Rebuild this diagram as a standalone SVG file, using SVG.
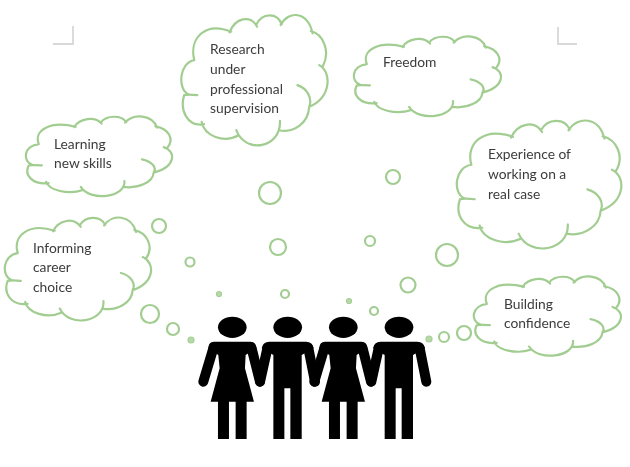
<svg xmlns="http://www.w3.org/2000/svg" width="630" height="467" viewBox="0 0 630 467">
<style>
.cloud{fill:none;stroke:#a2cd91;stroke-width:2.2;stroke-linecap:round;vector-effect:non-scaling-stroke}
.bub{fill:#fff;stroke:#a2cd91;stroke-width:2.2}
.dot{fill:#b7d9aa;stroke:#a6cf96;stroke-width:1.2}
.lb{font-family:"Lato","Open Sans",sans-serif;font-size:13.8px;fill:#3c3c3c}
.crop{fill:none;stroke:#d8d8d8;stroke-width:1.8}
.arm{fill:none;stroke:#000;stroke-width:30;stroke-linecap:round}
</style>
<defs>
<filter id="soft" x="-5%" y="-5%" width="110%" height="110%"><feGaussianBlur stdDeviation="0.75"/></filter>
<path id="c" class="cloud" d="M38 135C22 70 70 18 148 50M143 52C160 8 205 -2 225 35M222 30C240 -8 285 -8 298 28M295 30C320 -16 376 -10 390 55M385 48C423 58 444 110 420 155M410 150C447 170 447 246 380 275M345 210C375 220 390 250 380 275C378 322 335 355 290 345M293 317C297 398 190 418 163 345M170 360C125 385 68 362 60 320M67 327C17 335 -6 285 8 240C15 238 30 238 47 240M20 238C-13 220 -6 142 38 135"/>
<g id="woman"><path d="M-55 155H55Q72 155 72 175L40 195L38 235L65 335H43V447H10V335H-10V447H-43V335H-65L-38 235L-42 195L-72 175Q-72 155 -55 155Z"/><path class="arm" d="M-57 175L-87 275M58 175L83 275"/><ellipse cx="0" cy="112" rx="43" ry="32"/></g>
<g id="man"><path d="M-55 155H55Q75 155 78 175L42 195V447H8V295H-10V447H-43V195L-78 175Q-75 155 -55 155Z"/><path class="arm" d="M-61 175L-83 275M62 175L82 275"/><ellipse cx="0" cy="112" rx="43" ry="32"/></g>
</defs>
<g filter="url(#soft)">
<g id="crop-marks"><path class="crop" d="M53 44H73V26"/><path class="crop" d="M558 27V44H577"/></g>
<g id="connectors">
<circle class="bub" cx="270" cy="193" r="11"/><circle class="bub" cx="159" cy="226" r="7"/><circle class="bub" cx="190" cy="262" r="4.5"/><circle class="bub" cx="150" cy="314" r="9"/><circle class="bub" cx="173" cy="329" r="6"/><circle class="dot" cx="191" cy="340" r="3"/><circle class="bub" cx="278" cy="247" r="8"/><circle class="dot" cx="219" cy="294" r="2.5"/><circle class="bub" cx="285" cy="294" r="4"/><circle class="dot" cx="349" cy="301" r="2.5"/><circle class="bub" cx="374" cy="311" r="4"/><circle class="bub" cx="393" cy="177" r="7"/><circle class="bub" cx="370" cy="241" r="5"/><circle class="bub" cx="447" cy="255" r="11"/><circle class="bub" cx="408" cy="285" r="7.5"/><circle class="bub" cx="464" cy="333" r="7"/><circle class="bub" cx="444" cy="337" r="5"/><circle class="dot" cx="429" cy="339" r="3"/>
</g>
<g id="node-research"><use href="#c" transform="translate(181.500 15) scale(0.336 0.334)"/><text class="lb" x="210" y="54">Research</text><text class="lb" x="210" y="74">under</text><text class="lb" x="210" y="94">professional</text><text class="lb" x="210" y="113">supervision</text></g>
<g id="node-learning"><use href="#c" transform="translate(26 116.500) scale(0.336 0.204)"/><text class="lb" x="54" y="149">Learning</text><text class="lb" x="54" y="168">new skills</text></g>
<g id="node-freedom"><use href="#c" transform="translate(354 36.500) scale(0.338 0.204)"/><text class="lb" x="383" y="67">Freedom</text></g>
<g id="node-experience"><use href="#c" transform="translate(457 120.500) scale(0.378 0.328)"/><text class="lb" x="488" y="159">Experience of</text><text class="lb" x="488" y="179">working on a</text><text class="lb" x="488" y="199">real case</text></g>
<g id="node-informing"><use href="#c" transform="translate(5 217.500) scale(0.336 0.264)"/><text class="lb" x="33" y="253">Informing</text><text class="lb" x="33" y="272">career</text><text class="lb" x="33" y="292">choice</text></g>
<g id="node-building"><use href="#c" transform="translate(474 276.500) scale(0.338 0.203)"/><text class="lb" x="504" y="309">Building</text><text class="lb" x="504" y="328">confidence</text></g>
<g id="people">
<use href="#woman" transform="translate(232.300 290) scale(0.3333)"/>
<use href="#man" transform="translate(287.700 290) scale(0.3333)"/>
<use href="#woman" transform="translate(343.300 290) scale(0.3333)"/>
<use href="#man" transform="translate(399 290) scale(0.3333)"/>
</g>
</g>
</svg>
